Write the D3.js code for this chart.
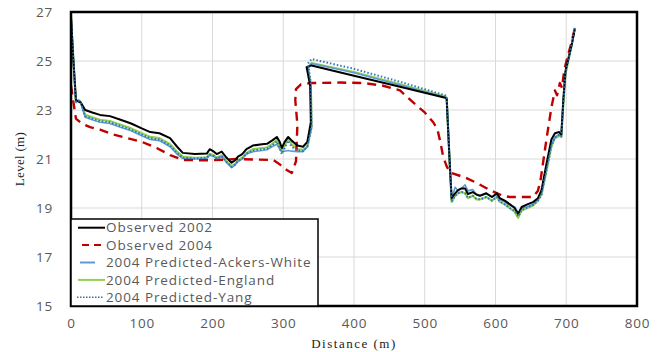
<!DOCTYPE html>
<html>
<head>
<meta charset="utf-8">
<script src="https://cdn.jsdelivr.net/npm/d3@7"></script>
<style>
  body { margin: 0; background: #fff; }
  #graph svg { display: block; }
</style>
</head>
<body>
<div id="graph"></div>
<script>
// observed 2002 profile
const dist02 = [0, 3, 7, 10, 14, 20, 30, 41, 55, 70, 85, 100, 112, 125, 140, 150, 158, 175, 192, 196, 202, 206, 213, 220, 227, 232, 236, 242, 248, 257, 270, 277, 284, 291, 295, 298, 302, 307, 312, 320, 328, 334, 339, 338, 333, 340, 400, 465, 529, 531, 535, 538, 543, 547, 552, 557, 561, 568, 573, 578, 587, 595, 602, 606, 613, 620, 627, 632, 637, 645, 653, 660, 665, 672, 679, 684, 690, 693, 696, 699, 703, 708, 712];
const level02 = [26.8, 25.2, 23.4, 23.35, 23.3, 23.0, 22.9, 22.8, 22.75, 22.6, 22.45, 22.25, 22.1, 22.05, 21.85, 21.5, 21.25, 21.2, 21.22, 21.4, 21.3, 21.2, 21.3, 21.05, 20.85, 20.95, 21.1, 21.2, 21.4, 21.55, 21.6, 21.62, 21.75, 21.9, 21.7, 21.45, 21.7, 21.9, 21.75, 21.55, 21.5, 21.7, 22.5, 24.0, 24.75, 24.82, 24.4, 23.95, 23.5, 23.45, 21.0, 19.4, 19.6, 19.73, 19.8, 19.8, 19.57, 19.65, 19.55, 19.5, 19.6, 19.45, 19.6, 19.4, 19.3, 19.16, 19.0, 18.76, 19.04, 19.15, 19.24, 19.4, 19.73, 20.8, 21.8, 22.05, 22.1, 22.0, 23.5, 24.6, 25.1, 25.7, 26.3];

// observed 2004 profile
const dist04 = [0, 3, 7, 15, 27, 41, 60, 80, 100, 121, 140, 159, 180, 200, 234, 260, 286, 296, 305, 312, 318, 320, 317, 318, 325, 340, 380, 413, 440, 465, 484, 500, 512, 518, 522, 526, 531, 536, 559, 575, 592, 610, 620, 653, 660, 664, 668, 672, 679, 684, 687, 691, 694, 697, 702, 707, 711];
const level04 = [24.0, 23.4, 22.65, 22.45, 22.3, 22.2, 22.0, 21.85, 21.7, 21.45, 21.16, 20.96, 20.95, 20.95, 21.0, 20.98, 20.96, 20.76, 20.55, 20.43, 20.9, 22.4, 23.4, 23.85, 24.05, 24.1, 24.12, 24.1, 24.0, 23.8, 23.3, 22.9, 22.5, 22.2, 21.7, 21.1, 20.7, 20.45, 20.22, 20.0, 19.73, 19.5, 19.45, 19.45, 19.7, 20.2, 21.0, 21.8, 23.1, 23.8, 23.6, 24.1, 23.9, 24.6, 25.2, 25.7, 26.2];

// 2004 predictions share one set of stations
const distPred = [0, 3, 7, 10, 13, 20, 30, 41, 55, 70, 85, 100, 112, 125, 140, 150, 158, 175, 192, 196, 202, 206, 213, 220, 227, 232, 236, 242, 248, 257, 270, 277, 284, 291, 295, 298, 302, 307, 312, 320, 328, 334, 340, 339, 335, 340, 400, 465, 529, 531, 535, 538, 543, 547, 552, 557, 561, 568, 573, 578, 587, 595, 602, 606, 613, 620, 627, 632, 637, 645, 653, 660, 665, 672, 679, 684, 690, 693, 696, 699, 703, 708, 712];
const levelAckers = [26.8, 25.2, 23.3, 23.4, 23.35, 22.7, 22.6, 22.5, 22.45, 22.3, 22.15, 21.95, 21.8, 21.75, 21.5, 21.2, 21.02, 21.0, 21.02, 21.15, 21.1, 21.0, 21.1, 20.85, 20.65, 20.75, 20.9, 21.0, 21.2, 21.3, 21.35, 21.38, 21.5, 21.6, 21.4, 21.3, 21.32, 21.35, 21.32, 21.3, 21.3, 21.5, 22.3, 24.0, 24.7, 24.9, 24.52, 24.02, 23.52, 23.5, 21.0, 19.4, 19.85, 19.7, 19.8, 19.95, 19.7, 19.75, 19.55, 19.5, 19.6, 19.45, 19.55, 19.35, 19.25, 19.1, 19.05, 18.8, 19.0, 19.05, 19.15, 19.35, 19.6, 20.6, 21.6, 21.9, 22.0, 21.95, 23.4, 24.55, 25.05, 25.7, 26.3];
const levelEngland = [26.8, 25.2, 23.35, 23.4, 23.37, 22.8, 22.7, 22.6, 22.55, 22.4, 22.25, 22.05, 21.9, 21.85, 21.6, 21.3, 21.1, 21.05, 21.07, 21.2, 21.15, 21.05, 21.15, 20.9, 20.7, 20.8, 20.95, 21.05, 21.25, 21.4, 21.45, 21.47, 21.6, 21.78, 21.5, 21.3, 21.55, 21.85, 21.6, 21.4, 21.37, 21.5, 22.3, 24.0, 24.7, 24.92, 24.55, 24.05, 23.55, 23.5, 21.0, 19.25, 19.5, 19.6, 19.65, 19.6, 19.4, 19.5, 19.35, 19.35, 19.45, 19.3, 19.45, 19.25, 19.15, 19.0, 18.85, 18.6, 18.9, 19.0, 19.1, 19.3, 19.55, 20.5, 21.5, 21.85, 21.95, 21.9, 23.3, 24.5, 25.0, 25.7, 26.35];
const levelYang = [26.8, 25.2, 23.35, 23.4, 23.35, 22.75, 22.65, 22.55, 22.5, 22.35, 22.2, 22.0, 21.85, 21.8, 21.55, 21.25, 21.05, 21.02, 21.05, 21.18, 21.12, 21.02, 21.12, 20.88, 20.68, 20.78, 20.92, 21.02, 21.22, 21.35, 21.4, 21.42, 21.55, 21.72, 21.45, 21.2, 21.45, 21.75, 21.5, 21.35, 21.33, 21.5, 22.3, 24.1, 24.9, 25.08, 24.68, 24.15, 23.6, 23.55, 21.0, 19.25, 19.5, 19.6, 19.65, 19.6, 19.42, 19.5, 19.38, 19.35, 19.45, 19.3, 19.45, 19.27, 19.15, 19.0, 18.88, 18.65, 18.92, 19.02, 19.12, 19.3, 19.55, 20.55, 21.55, 21.88, 21.98, 21.92, 23.35, 24.5, 25.05, 25.7, 26.35];

const xTicks = [0, 100, 200, 300, 400, 500, 600, 700, 800];
const yTicks = [15, 17, 19, 21, 23, 25, 27];

const seriesNames = ["Observed 2002", "Observed 2004", "2004 Predicted-Ackers-White", "2004 Predicted-England", "2004 Predicted-Yang"];

const width = 657, height = 352;
const margin = { top: 12, right: 20, bottom: 46, left: 71 };
const plotW = 637 - margin.left;
const plotH = 306 - margin.top;

const svg = d3.select("#graph").append("svg")
  .attr("width", width)
  .attr("height", height);

const g = svg.append("g")
  .attr("transform", "translate(" + margin.left + "," + margin.top + ")");

const x = d3.scaleLinear().domain([0, 800]).range([0, plotW]);
const y = d3.scaleLinear().domain([15, 27]).range([plotH, 0]);

//gridlines
g.append("g")
  .selectAll("line")
  .data(xTicks)
  .enter()
  .append("line")
  .attr("x1", d => x(d)).attr("x2", d => x(d))
  .attr("y1", 0).attr("y2", plotH)
  .attr("stroke", "#d9d9d9").attr("stroke-width", 1);

g.append("g")
  .selectAll("line")
  .data(yTicks)
  .enter()
  .append("line")
  .attr("x1", 0).attr("x2", plotW)
  .attr("y1", d => y(d)).attr("y2", d => y(d))
  .attr("stroke", "#d9d9d9").attr("stroke-width", 1);

//axes, labels only
const tickFont = "'Open Sans', 'DejaVu Sans', sans-serif";
const xAxis = g.append("g")
  .attr("transform", "translate(0," + plotH + ")")
  .call(d3.axisBottom(x).tickValues(xTicks).tickSize(0).tickPadding(12));
const yAxis = g.append("g")
  .call(d3.axisLeft(y).tickValues(yTicks).tickSize(0).tickPadding(18));
[xAxis, yAxis].forEach(a => {
  a.select(".domain").remove();
  a.selectAll("text")
    .attr("fill", "#595959")
    .style("font-family", tickFont)
    .style("font-size", "13.5px")
    .style("letter-spacing", "0.8px");
});

//lines
const line = d3.line()
  .x(d => x(d[0]))
  .y(d => y(d[1]));

function pairs(ds, ls) {
  return ds.map((d, i) => [d, ls[i]]);
}

const series = [
  { data: pairs(distPred, levelEngland), color: "#92d050", width: 2.2, dash: null },
  { data: pairs(distPred, levelAckers), color: "#5b9bd5", width: 1.6, dash: null },
  { data: pairs(dist04, level04), color: "#c00000", width: 2.4, dash: "9,6" },
  { data: pairs(dist02, level02), color: "#000000", width: 2, dash: null },
  { data: pairs(distPred, levelYang), color: "#2e75b6", width: 2, dash: "1.5,2" }
];

g.append("g")
  .selectAll("path")
  .data(series)
  .enter()
  .append("path")
  .attr("d", d => line(d.data))
  .attr("fill", "none")
  .attr("stroke", d => d.color)
  .attr("stroke-width", d => d.width)
  .attr("stroke-dasharray", d => d.dash)
  .attr("stroke-linejoin", "round");

//frame
g.append("rect")
  .attr("x", 0).attr("y", 0)
  .attr("width", plotW).attr("height", plotH)
  .attr("fill", "none")
  .attr("stroke", "#000")
  .attr("stroke-width", 2.5);

//legend
const legend = g.append("g");
legend.append("rect")
  .attr("x", 0).attr("y", 219 - margin.top)
  .attr("width", 318 - margin.left).attr("height", 306 - 219)
  .attr("fill", "#fff")
  .attr("stroke", "#000")
  .attr("stroke-width", 1.5);

const legendStyle = [
  { color: "#000000", width: 2, dash: null, x1: 7, x2: 34 },
  { color: "#c00000", width: 2, dash: "7,5", x1: 11, x2: 30 },
  { color: "#5b9bd5", width: 2, dash: null, x1: 9, x2: 24 },
  { color: "#92d050", width: 2, dash: null, x1: 7, x2: 34 },
  { color: "#2e75b6", width: 1.6, dash: "1.5,1.5", x1: 6, x2: 33 }
];

const rowY = i => 227.7 - margin.top + i * 17.4;

legend.selectAll("line")
  .data(legendStyle)
  .enter()
  .append("line")
  .attr("x1", d => d.x1).attr("x2", d => d.x2)
  .attr("y1", (d, i) => rowY(i)).attr("y2", (d, i) => rowY(i))
  .attr("stroke", d => d.color)
  .attr("stroke-width", d => d.width)
  .attr("stroke-dasharray", d => d.dash);

legend.selectAll("text")
  .data(seriesNames)
  .enter()
  .append("text")
  .attr("x", 106 - margin.left)
  .attr("y", (d, i) => rowY(i))
  .attr("dy", "0.35em")
  .attr("fill", "#595959")
  .style("font-family", tickFont)
  .style("font-size", "13.5px")
  .style("letter-spacing", "0.9px")
  .text(d => d);

//axis titles
svg.append("text")
  .attr("x", (71 + 637) / 2)
  .attr("y", 348)
  .attr("text-anchor", "middle")
  .style("font-family", "'Liberation Serif', 'DejaVu Serif', serif")
  .style("font-size", "13px")
  .style("letter-spacing", "1.5px")
  .attr("fill", "#222")
  .text("Distance (m)");

svg.append("text")
  .attr("transform", "translate(24," + (12 + 306) / 2 + ") rotate(-90)")
  .attr("text-anchor", "middle")
  .style("font-family", "'Liberation Serif', 'DejaVu Serif', serif")
  .style("font-size", "13px")
  .style("letter-spacing", "0.3px")
  .attr("fill", "#222")
  .text("Level (m)");
</script>
</body>
</html>
